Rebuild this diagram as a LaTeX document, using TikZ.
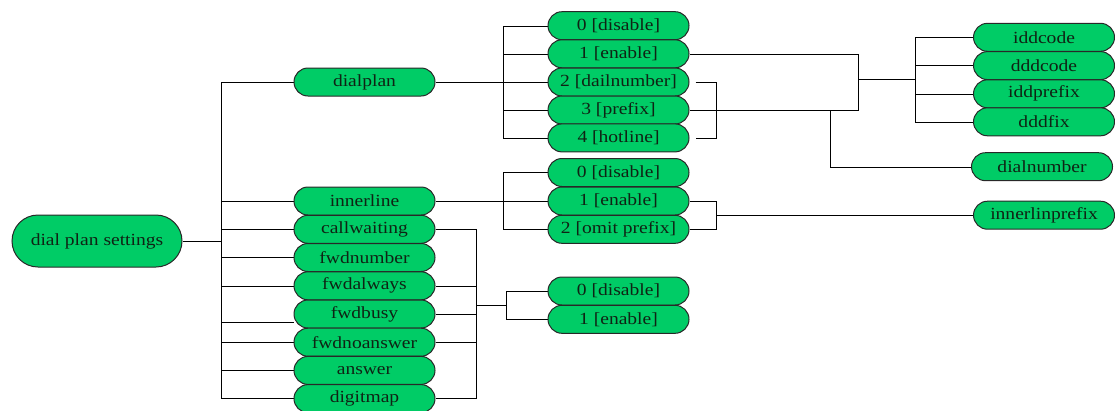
\documentclass[tikz,border=0pt]{standalone}
\usepackage{fontspec}
\setmainfont{Liberation Serif}[FakeStretch=1.15]
\usetikzlibrary{shapes.misc,backgrounds}
\definecolor{nodegreen}{RGB}{0,204,102}
\definecolor{edgegray}{RGB}{40,40,40}
\definecolor{textdark}{RGB}{15,35,20}
\begin{document}
\begin{tikzpicture}[x=1pt,y=-1pt,
  item/.style={rounded rectangle, draw=edgegray, line width=1pt, fill=nodegreen,
    minimum width=141pt, minimum height=28pt, inner sep=0pt,
    font=\fontsize{17}{20}\selectfont, text=textdark},
  rootnode/.style={item, minimum width=170pt, minimum height=52pt},
  conn/.style={draw=edgegray, line width=1.1pt}]
\useasboundingbox (0,0) rectangle (1115,410);
% root
\node[rootnode] (root) at (97,241) {dial plan settings};
% column 2
\node[item] (dialplan) at (364.5,82) {dialplan};
\node[item] (innerline) at (364.5,201) {innerline};
\node[item] (callwaiting) at (364.5,229.3) {callwaiting};
\node[item] (fwdnumber) at (364.5,257.5) {fwdnumber};
\node[item] (fwdalways) at (364.5,285.8) {fwdalways};
\node[item] (fwdbusy) at (364.5,314) {fwdbusy};
\node[item] (fwdnoanswer) at (364.5,342.2) {fwdnoanswer};
\node[item] (answer) at (364.5,370.4) {answer};
\node[item] (digitmap) at (364.5,398.6) {digitmap};
% column 3
\node[item] (dp0) at (618.5,25.7) {0 [disable]};
\node[item] (dp1) at (618.5,53.8) {1 [enable]};
\node[item] (dp2) at (618.5,82) {2 [dailnumber]};
\node[item] (dp3) at (618.5,110) {3 [prefix]};
\node[item] (dp4) at (618.5,137.9) {4 [hotline]};
\node[item] (il0) at (618.5,172.5) {0 [disable]};
\node[item] (il1) at (618.5,201) {1 [enable]};
\node[item] (il2) at (618.5,229.3) {2 [omit prefix]};
\node[item] (fw0) at (618.5,291) {0 [disable]};
\node[item] (fw1) at (618.5,319.3) {1 [enable]};
% column 4
\node[item] (iddcode) at (1044,37.3) {iddcode};
\node[item] (dddcode) at (1044,65.6) {dddcode};
\node[item] (iddprefix) at (1044,93.8) {iddprefix};
\node[item] (dddfix) at (1044,121.8) {dddfix};
\node[item] (dialnumber) at (1042,166.7) {dialnumber};
\node[item] (innerlinprefix) at (1044,215.2) {innerlinprefix};
% junction coordinates
\coordinate (t1) at (220.7,0);
\coordinate (t2) at (502.7,0);
\coordinate (t4) at (476,0);
\coordinate (t5) at (506,0);
\coordinate (b1) at (716,0);
\coordinate (j1) at (858,0);
\coordinate (t3) at (915,0);
\coordinate (d1) at (830,110);
\coordinate (fj) at (476,305.2);
\coordinate (jj) at (858,79.6);
\begin{scope}[on background layer, conn]
  % root to column 2
  \draw (root.east) -- (root.east -| t1);
  \draw (dialplan.west) -| (t1 |- digitmap.west) -- (digitmap.west);
  \foreach \n in {innerline,callwaiting,fwdnumber,fwdalways,fwdnoanswer,answer}
    \draw (\n.west) -- (\n.west -| t1);
  \draw ([yshift=-8pt]fwdbusy.west) -- ([yshift=-8pt]fwdbusy.west -| t1);
  % dialplan options
  \draw (dialplan.east) -- (dp2.west);
  \draw (dp0.west) -| (t2 |- dp4.west) -- (dp4.west);
  \draw (dp1.west) -- (dp1.west -| t2);
  \draw (dp3.west) -- (dp3.west -| t2);
  \draw ([xshift=6pt]dp2.east) -| (b1 |- dp4.east) -- ([xshift=6pt]dp4.east);
  \draw (dp1.east) -| (j1 |- dp3.east) -- (dp3.east);
  \draw (jj) -- (jj -| t3);
  \draw (iddcode.west) -| (t3 |- dddfix.west) -- (dddfix.west);
  \draw (dddcode.west) -- (dddcode.west -| t3);
  \draw (iddprefix.west) -- (iddprefix.west -| t3);
  \draw (d1) |- (dialnumber.west);
  % innerline options
  \draw (innerline.east) -- (il1.west);
  \draw (il0.west) -| (t2 |- il2.west) -- (il2.west);
  \draw (il1.east) -| (b1 |- il2.east) -- (il2.east);
  \draw (innerlinprefix.west) -- (innerlinprefix.west -| b1);
  % forward options
  \draw (callwaiting.east) -| (t4 |- digitmap.east) -- (digitmap.east);
  \draw (fwdalways.east) -- (fwdalways.east -| t4);
  \draw (fwdbusy.east) -- (fwdbusy.east -| t4);
  \draw (fwdnoanswer.east) -- (fwdnoanswer.east -| t4);
  \draw (fj) -- (fj -| t5);
  \draw (fw0.west) -| (t5 |- fw1.west) -- (fw1.west);
\end{scope}
\end{tikzpicture}
\end{document}
